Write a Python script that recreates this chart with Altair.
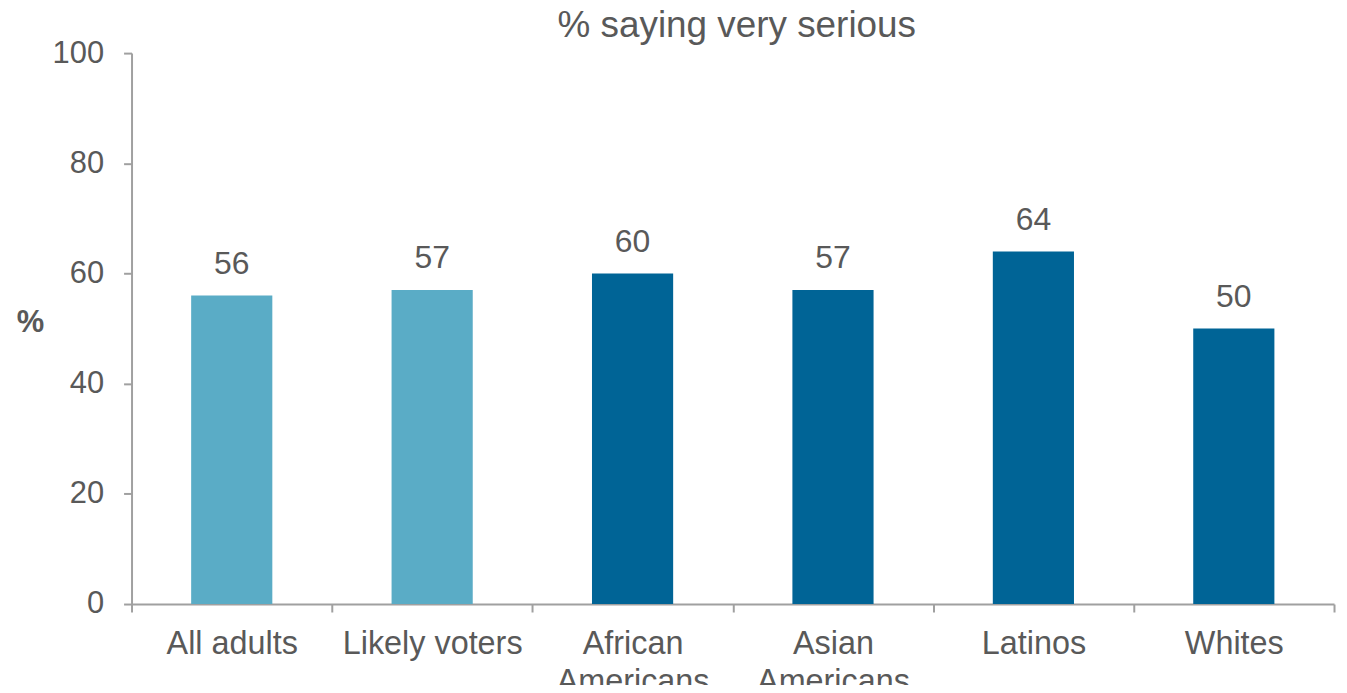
import altair as alt
import pandas as pd

categories = ["All adults", "Likely voters", "African Americans", "Asian Americans", "Latinos", "Whites"]
values = [56, 57, 60, 57, 64, 50]
groups = ["total", "total", "race", "race", "race", "race"]

df = pd.DataFrame({"category": categories, "value": values, "group": groups})

FONT = "Liberation Sans"
GRAY = "#595959"
AX = "#a0a0a0"

x = alt.X("category:N", sort=categories,
          scale=alt.Scale(paddingInner=0, paddingOuter=0),
          axis=alt.Axis(title=None, labelAngle=0, labelFontSize=32.5, labelFont=FONT,
                        labelColor=GRAY, labelPadding=16, tickBand="extent", labelLimit=400,
                        tickSize=8, tickColor=AX, domainColor=AX, domainWidth=2, tickWidth=2,
                        labelLineHeight=38,
                        labelExpr="indexof(datum.label, 'Americans') > 0 ? split(datum.label, ' ') : datum.label"))

y = alt.Y("value:Q", scale=alt.Scale(domain=[0, 100]),
          axis=alt.Axis(values=[0, 20, 40, 60, 80, 100], grid=False, title="%",
                        titleAngle=0, titleFontSize=31, titleFont=FONT, titleFontWeight="bold",
                        titleColor=GRAY, titleX=-102, titleY=270, titleAlign="center",
                        titleBaseline="middle",
                        labelFontSize=31, labelFont=FONT, labelColor=GRAY, labelPadding=20,
                        tickSize=8, tickColor=AX, domainColor=AX, domainWidth=2, tickWidth=2))

bars = alt.Chart(df).mark_bar(width=alt.RelativeBandSize(0.405)).encode(
    x=x, y=y,
    color=alt.Color("group:N", scale=alt.Scale(domain=["total", "race"], range=["#5aacc6", "#006496"]), legend=None),
)

text = alt.Chart(df).mark_text(dy=-15, baseline="bottom", fontSize=32, font=FONT, color=GRAY).encode(
    x=alt.X("category:N", sort=categories), y="value:Q", text="value:Q"
)

chart = (bars + text).properties(
    width=1207, height=553,
    background="white",
    title=alt.TitleParams("% saying very serious", fontSize=37, font=FONT, color=GRAY,
                          fontWeight="normal", anchor="middle", offset=-8, dx=4),
    padding={"left": 124, "top": 44, "right": 5, "bottom": 80},
    autosize=alt.AutoSizeParams(type="none"),
).configure_view(strokeWidth=0, stroke=None)

chart.save("out.html", embed_options={"renderer": "svg", "actions": False})
